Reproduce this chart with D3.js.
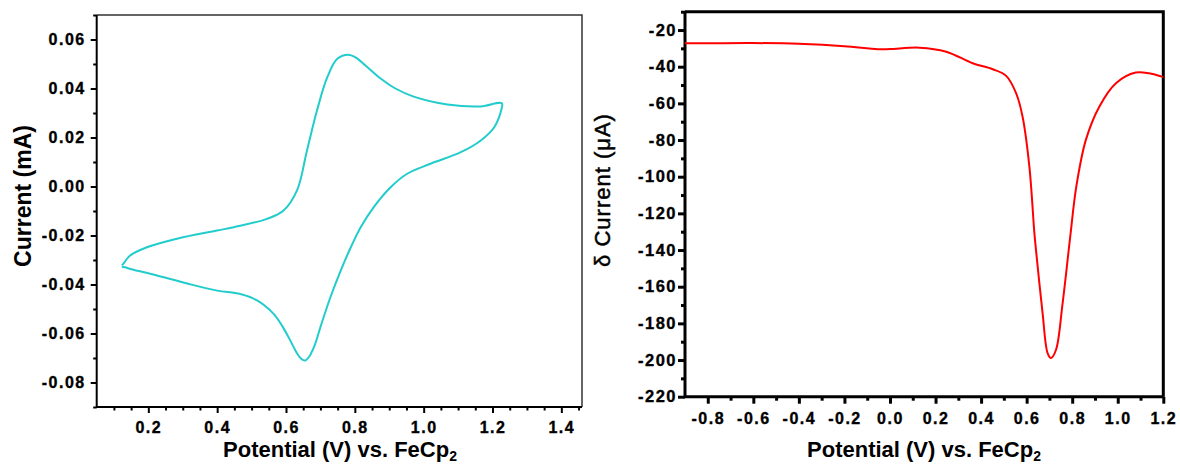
<!DOCTYPE html>
<html>
<head>
<meta charset="utf-8">
<script src="https://cdn.jsdelivr.net/npm/d3@7"></script>
<style>
  body { margin: 0; background: #fff; }
  svg { display: block; }
  text { font-family: "Liberation Sans", Arial, sans-serif; fill: #000; }
</style>
</head>
<body>
<svg id="chart" width="1180" height="467"></svg>
<script>
// ---- left panel: cyclic voltammogram ----
const cvPotential = [0.123, 0.127, 0.147, 0.196, 0.283, 0.399, 0.448, 0.545, 0.593, 0.632, 0.661, 0.690, 0.720, 0.749, 0.781, 0.802, 0.831, 0.875, 0.918, 0.971, 1.069, 1.166, 1.227,
                     1.225, 1.205, 1.166, 1.108, 1.020, 0.952, 0.904, 0.855, 0.817, 0.788, 0.759, 0.729, 0.700, 0.684, 0.668, 0.656, 0.644, 0.630, 0.613, 0.590, 0.564, 0.516, 0.467, 0.400, 0.313, 0.225, 0.157, 0.127, 0.123]
const cvCurrent = [-0.0322, -0.0316, -0.0282, -0.0248, -0.0213, -0.0180, -0.0166, -0.0132, -0.0098, -0.0016, 0.0147, 0.0310, 0.0446, 0.0521, 0.0538, 0.0527, 0.0494, 0.0441, 0.0400, 0.0367, 0.0335, 0.0327, 0.0340,
                   0.0310, 0.0242, 0.0188, 0.0140, 0.0093, 0.0052, -0.0003, -0.0084, -0.0166, -0.0249, -0.0343, -0.0452, -0.0574, -0.0645, -0.0693, -0.0710, -0.0703, -0.0676, -0.0630, -0.0572, -0.0520, -0.0465, -0.0439, -0.0425, -0.0396, -0.0363, -0.0340, -0.0329, -0.0330]
const cvXTicks = [0.2, 0.4, 0.6, 0.8, 1.0, 1.2, 1.4]
const cvXTickLabels = ["0.2", "0.4", "0.6", "0.8", "1.0", "1.2", "1.4"]
const cvYTicks = [-0.08, -0.06, -0.04, -0.02, 0, 0.02, 0.04, 0.06]
const cvYTickLabels = ["-0.08", "-0.06", "-0.04", "-0.02", "0.00", "0.02", "0.04", "0.06"]

// ---- right panel: differential pulse ----
const dpvPotential = [-0.9, -0.8, -0.6, -0.4, -0.2, -0.053, 0.0, 0.130, 0.247, 0.363, 0.451, 0.510, 0.554, 0.582, 0.612, 0.634, 0.641, 0.670, 0.692, 0.707, 0.729, 0.758, 0.792, 0.818, 0.860, 0.919, 0.992, 1.079, 1.138, 1.193, 1.2]
const dpvCurrent = [-27.2, -27.2, -27.1, -27.5, -28.8, -30.5, -30.4, -29.6, -31.8, -38.1, -41.4, -45.0, -54.5, -67.2, -94.5, -130.8, -139.9, -174.4, -196.2, -198.9, -194.4, -168.9, -132.0, -105.4, -79.9, -61.8, -49.0, -43.2, -43.6, -45.4, -45.7]
const dpvXTicks = [-0.8, -0.6, -0.4, -0.2, 0, 0.2, 0.4, 0.6, 0.8, 1.0, 1.2]
const dpvXTickLabels = ["-0.8", "-0.6", "-0.4", "-0.2", "0.0", "0.2", "0.4", "0.6", "0.8", "1.0", "1.2"]
const dpvYTicks = [-220, -200, -180, -160, -140, -120, -100, -80, -60, -40, -20]
const dpvYTickLabels = ["-220", "-200", "-180", "-160", "-140", "-120", "-100", "-80", "-60", "-40", "-20"]

const svg = d3.select("#chart")
const font = "\"Liberation Sans\", Arial, sans-serif"

function labelOf(ticks, labels) {
    return d => labels[ticks.findIndex(t => Math.abs(t - d) < 1e-9)]
}

function drawAxes(g, x, y, opt) {
    // minor ticks first, majors on top
    g.append("g")
        .attr("transform", "translate(0," + y.range()[0] + ")")
        .call(d3.axisBottom(x).tickValues(opt.xMinor).tickSize(opt.minorLen).tickFormat("").tickSizeOuter(0))
    g.append("g")
        .attr("transform", "translate(" + x.range()[0] + ",0)")
        .call(d3.axisLeft(y).tickValues(opt.yMinor).tickSize(opt.minorLen).tickFormat("").tickSizeOuter(0))

    const xa = g.append("g")
        .attr("transform", "translate(0," + y.range()[0] + ")")
        .call(d3.axisBottom(x).tickValues(opt.xTicks).tickSize(opt.majorLen).tickPadding(opt.xPad)
            .tickFormat(labelOf(opt.xTicks, opt.xLabels)).tickSizeOuter(0))
    xa.selectAll("text").style("font", "bold 16px " + font).style("letter-spacing", "1.5px")

    const ya = g.append("g")
        .attr("transform", "translate(" + x.range()[0] + ",0)")
        .call(d3.axisLeft(y).tickValues(opt.yTicks).tickSize(opt.majorLen).tickPadding(opt.yPad)
            .tickFormat(labelOf(opt.yTicks, opt.yLabels)).tickSizeOuter(0))
    ya.selectAll("text").style("font", "bold " + opt.yFont + "px " + font).style("letter-spacing", "1.5px")

    g.selectAll(".tick text").style("stroke", "#000").style("stroke-width", 0.35)
    g.selectAll(".tick line").attr("stroke", "#000").attr("stroke-width", opt.axisW)
    g.selectAll(".domain").remove()

    // frame
    const [x0, x1] = x.range(), [y0, y1] = y.range()
    g.append("path")
        .attr("d", `M${x0},${y1}H${x1}V${y0}`)
        .attr("fill", "none").attr("stroke", opt.frameColor).attr("stroke-width", opt.frameW)
    g.append("path")
        .attr("d", `M${x0},${y1}V${y0}H${x1}`)
        .attr("fill", "none").attr("stroke", "#000").attr("stroke-width", opt.axisW)
}

// left
const xL = d3.scaleLinear().domain([0.05, 1.46]).range([96.7, 582])
const yL = d3.scaleLinear().domain([-0.09, 0.07]).range([407, 15])
const gL = svg.append("g")

drawAxes(gL, xL, yL, {
    xTicks: cvXTicks, xLabels: cvXTickLabels, yTicks: cvYTicks, yLabels: cvYTickLabels,
    xMinor: d3.range(1, 30).map(i => i * 0.05).filter(v => v > 0.05 && v < 1.46 && Math.round(v * 100) % 20 !== 0),
    yMinor: [-0.09, -0.07, -0.05, -0.03, -0.01, 0.01, 0.03, 0.05, 0.07],
    majorLen: 6, minorLen: 3.5, xPad: 9, yPad: 5, yFont: 16,
    axisW: 2, frameW: 1.5, frameColor: "#333"
})

gL.append("path")
    .datum(d3.zip(cvPotential, cvCurrent))
    .attr("d", d3.line().x(d => xL(d[0])).y(d => yL(d[1])).curve(d3.curveCatmullRom.alpha(0.5)))
    .attr("fill", "none")
    .attr("stroke", "#22cccc")
    .attr("stroke-width", 2)

gL.append("text")
    .attr("transform", "translate(31,196) rotate(-90)")
    .attr("text-anchor", "middle")
    .style("font", "bold 23px " + font)
    .text("Current (mA)")

const tL = gL.append("text")
    .attr("x", 340).attr("y", 457)
    .attr("text-anchor", "middle")
    .style("font", "bold 22px " + font)
tL.append("tspan").text("Potential (V) vs. FeCp")
tL.append("tspan").attr("dy", 4).style("font-size", "14px").text("2")

// right
const xR = d3.scaleLinear().domain([-0.9, 1.2]).range([685, 1163.3])
const yR = d3.scaleLinear().domain([-220, -10]).range([396.7, 11.7])
const gR = svg.append("g")

drawAxes(gR, xR, yR, {
    xTicks: dpvXTicks, xLabels: dpvXTickLabels, yTicks: dpvYTicks, yLabels: dpvYTickLabels,
    xMinor: [-0.7, -0.5, -0.3, -0.1, 0.1, 0.3, 0.5, 0.7, 0.9, 1.1],
    yMinor: d3.range(-210, -9, 20),
    majorLen: 7, minorLen: 4, xPad: 9, yPad: 1, yFont: 16.5,
    axisW: 3, frameW: 3, frameColor: "#000"
})

gR.append("path")
    .datum(d3.zip(dpvPotential, dpvCurrent))
    .attr("d", d3.line().x(d => xR(d[0])).y(d => yR(d[1])).curve(d3.curveCatmullRom.alpha(0.5)))
    .attr("fill", "none")
    .attr("stroke", "#ff0000")
    .attr("stroke-width", 2)

gR.append("text")
    .attr("transform", "translate(610,190) rotate(-90)")
    .attr("text-anchor", "middle")
    .style("font", "22px " + font)
    .style("letter-spacing", "1px")
    .style("stroke", "#000").style("stroke-width", 0.5)
    .text("\u03b4 Current (\u03bcA)")

const tR = gR.append("text")
    .attr("x", 924).attr("y", 457)
    .attr("text-anchor", "middle")
    .style("font", "bold 22px " + font)
tR.append("tspan").text("Potential (V) vs. FeCp")
tR.append("tspan").attr("dy", 4).style("font-size", "14px").text("2")
</script>
</body>
</html>
